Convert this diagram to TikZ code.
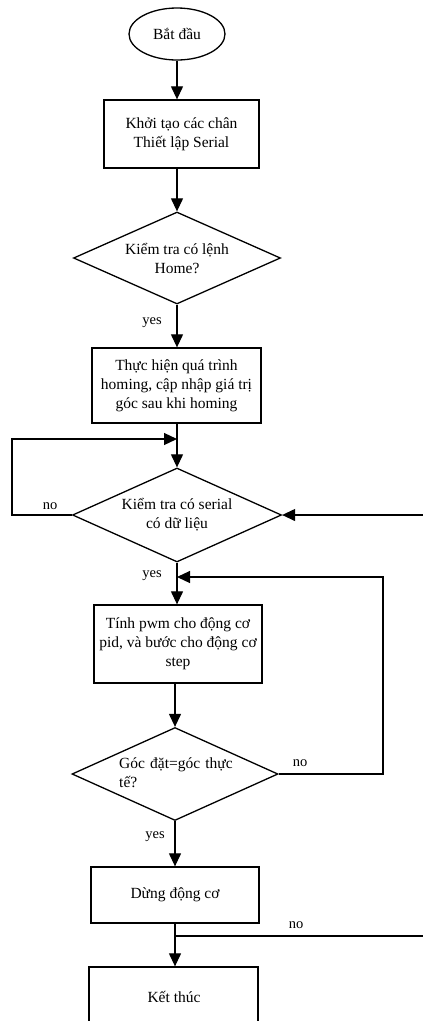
\documentclass[tikz,border=0pt]{standalone}
\usepackage{fontspec}
\setmainfont{Liberation Serif}
\usetikzlibrary{shapes.geometric,arrows.meta}
\begin{document}
\begin{tikzpicture}[x=1pt,y=-1pt,
  every node/.style={font=\fontsize{15.5}{19}\selectfont},
  procbox/.style={draw,line width=1.3pt,rectangle,inner sep=0pt,align=center},
  decbox/.style={draw,line width=1.3pt,diamond,inner sep=0pt,aspect=2.25,align=center},
  termbox/.style={draw,line width=1.3pt,ellipse,inner sep=0pt},
  flow/.style={line width=1.2pt,-{Triangle[length=13pt,width=12pt]}},
  plain/.style={line width=1.2pt},
  lbl/.style={font=\fontsize{14.5}{17}\selectfont,inner sep=0pt}]
\useasboundingbox (0,0) rectangle (423,1021);
\fill[white] (0,0) rectangle (423,1021);
\clip (0,0) rectangle (423,1021);
% nodes
\node[termbox,minimum width=96pt,minimum height=52pt] (start) at (177,34) {Bắt đầu};
\node[procbox,minimum width=155pt,minimum height=68pt] (init) at (181.5,134) {Khởi tạo các chân\\Thiết lập Serial};
\node[decbox,minimum width=207pt,minimum height=92pt] (home) at (177,258) {Kiểm tra có lệnh\\Home?};
\node[procbox,minimum width=169pt,minimum height=75pt] (homing) at (176.5,385.5) {Thực hiện quá trình\\homing, cập nhập giá trị\\góc sau khi homing};
\node[decbox,minimum width=209pt,minimum height=94pt] (serial) at (177,515) {Kiểm tra có serial\\có dữ liệu};
\node[procbox,minimum width=168pt,minimum height=78pt] (pwm) at (178,644) {Tính pwm cho động cơ\\pid, và bước cho động cơ\\step};
\node[decbox,minimum width=206pt,minimum height=93pt] (angle) at (175,774) {};
\node[align=left,text width=130pt,inner sep=0pt,anchor=west] (angletxt) at (119,773) {Góc đặt=góc thực\\tế?};
\node[procbox,minimum width=168pt,minimum height=56pt] (stop) at (175,895) {Dừng động cơ};
\node[procbox,minimum width=169pt,minimum height=64pt] (end) at (173.5,999) {};
\node (endtxt) at (174,997) {Kết thúc};
% coordinates
\coordinate (j1) at (177,439);
\coordinate (lft) at (12,439);
\coordinate (lfb) at (12,515);
\coordinate (rin) at (423,515);
\coordinate (j2) at (177,577);
\coordinate (rtt) at (383,577);
\coordinate (rtb) at (383,774);
\coordinate (j3) at (175,936);
\coordinate (rend) at (423,936);
% connectors
\draw[flow] (start.south) -- (start.south |- init.north);
\draw[flow] (home.north |- init.south) -- (home.north);
\draw[flow] (home.south) -- (home.south |- homing.north);
\draw[flow] (serial.north |- homing.south) -- (serial.north);
\draw[flow] (serial.west) -- (lfb) -- (lft) -- (j1);
\draw[flow] (rin) -- (serial.east);
\draw[flow] (serial.south) -- (serial.south |- pwm.north);
\draw[flow] (angle.north |- pwm.south) -- (angle.north);
\draw[flow] (angle.east) -- (rtb) -- (rtt) -- (j2);
\draw[flow] (angle.south) -- (angle.south |- stop.north);
\draw[flow] (j3 |- stop.south) -- (j3 |- end.north);
\draw[plain] (rend) -- (j3);
% labels
\node[lbl] (y1) at (152,323) {yes};
\node[lbl] (n1) at (50,506) {no};
\node[lbl] (y2) at (152,576) {yes};
\node[lbl] (n2) at (300,763) {no};
\node[lbl] (y3) at (155,837) {yes};
\node[lbl] (n3) at (296,925) {no};
\end{tikzpicture}
\end{document}
